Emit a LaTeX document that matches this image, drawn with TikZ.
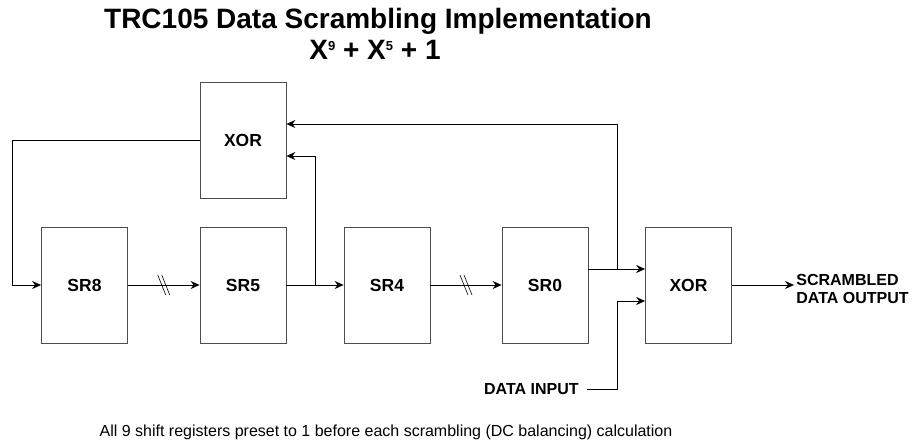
\documentclass[tikz,border=0pt]{standalone}
\usepackage{fontspec}
\setmainfont{Liberation Sans}
\usetikzlibrary{arrows.meta,calc}
\newcommand{\polyexp}[1]{\raisebox{0.33em}{\fontsize{13}{13}\selectfont #1}}
\begin{document}
\begin{tikzpicture}[x=1pt,y=-1pt,->,>={Stealth[length=9pt,width=8pt,inset=3pt]},line width=0.8pt,
    reg/.style={draw=black!70,minimum width=86pt,minimum height=116pt,font=\fontsize{17.5}{20}\selectfont\bfseries},
    lbl/.style={font=\fontsize{16}{18}\selectfont\bfseries,align=left,inner sep=2pt},
    heading/.style={font=\fontsize{28}{32}\selectfont\bfseries}]
  \useasboundingbox (0,0) rectangle (912,443);

  \node[heading] (title) at (378,21) {TRC105 Data Scrambling Implementation};
  \node[heading] (poly) at (375,50) {X\polyexp{9} + X\polyexp{5} + 1};

  \node[reg] (xorfb) at (243,140) {XOR};
  \node[reg] (sr8) at (84.5,285) {SR8};
  \node[reg] (sr5) at (243,285) {SR5};
  \node[reg] (sr4) at (387,285) {SR4};
  \node[reg] (sr0) at (545,285) {SR0};
  \node[reg] (xorout) at (688.5,285) {XOR};

  \node[lbl,anchor=east] (din) at (581,389) {DATA INPUT};
  \node[lbl,anchor=west] (dout) at (794,289) {SCRAMBLED\\DATA OUTPUT};
  \node[font=\fontsize{16}{18}\selectfont] (note) at (386,432)
    {All 9 shift registers preset to 1 before each scrambling (DC balancing) calculation};

  \coordinate (tap5) at (315,285);
  \coordinate (tap0) at (617,269);
  \coordinate (inbend) at (617,301);
  \coordinate (fbcorner) at (12,140);
  \coordinate (brk1) at ($(sr8.east)!0.5!(sr5.west)$);
  \coordinate (brk2) at ($(sr4.east)!0.5!(sr0.west)$);

  \draw (sr8) -- (sr5);
  \draw (sr5) -- (sr4);
  \draw (sr4) -- (sr0);
  \draw ([yshift=16pt]sr0.east) -- ([yshift=16pt]xorout.west);
  \draw (tap5) |- ([yshift=-16pt]xorfb.east);
  \draw (tap0) |- ([yshift=16pt]xorfb.east);
  \draw ([xshift=6pt]din.east) -| (inbend) -- ([yshift=-16pt]xorout.west);
  \draw (xorfb.west) -- (fbcorner) |- (sr8.west);
  \draw (xorout.east) -- (xorout.east -| dout.west);

  \foreach \b in {brk1,brk2}
    \foreach \d in {-2,2}
      \draw[-,line width=0.6pt] ([shift={(\d-4,-10)}]\b) -- ([shift={(\d+4,10)}]\b);
\end{tikzpicture}
\end{document}
